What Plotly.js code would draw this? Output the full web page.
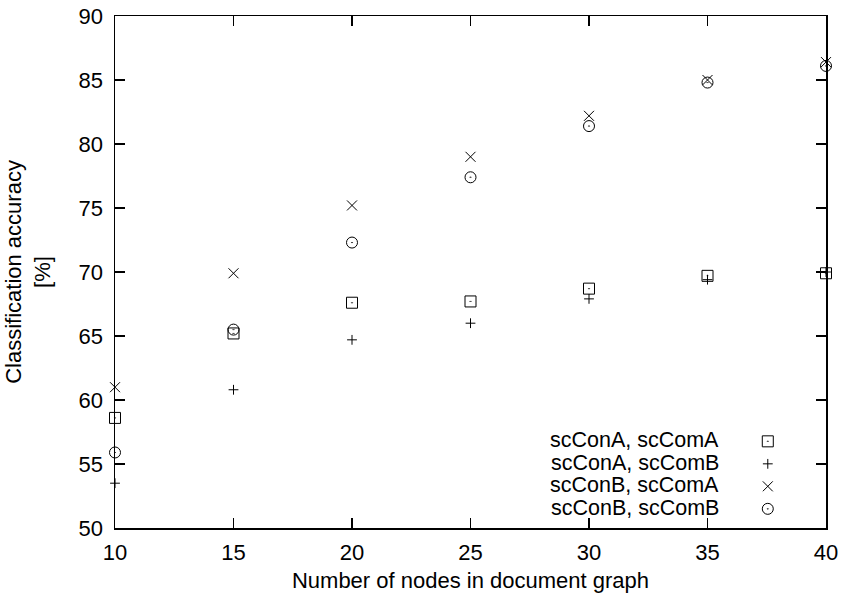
<!DOCTYPE html>
<html>
<head>
<meta charset="utf-8">
<script src="https://cdn.plot.ly/plotly-3.0.1.min.js"></script>
<style>html,body{margin:0;padding:0;background:#fff;}#chart{width:847px;height:600px;}</style>
</head>
<body>
<div id="chart"></div>
<script>
const nodes = [10, 15, 20, 25, 30, 35, 40];
const conA_comA = [58.6, 65.2, 67.6, 67.7, 68.7, 69.7, 69.9];
const conA_comB = [53.5, 60.8, 64.7, 66.0, 67.9, 69.4, 70.0];
const conB_comA = [61.0, 69.9, 75.2, 79.0, 82.2, 85.0, 86.4];
const conB_comB = [55.9, 65.5, 72.3, 77.4, 81.4, 84.8, 86.1];
const seriesNames = ["scConA, scComA", "scConA, scComB", "scConB, scComA", "scConB, scComB"];
const xTicks = [10, 15, 20, 25, 30, 35, 40];
const yTicks = [50, 55, 60, 65, 70, 75, 80, 85, 90];

const symbols = ["square-open-dot", "cross-thin-open", "x-thin-open", "circle-open-dot"];
const sizes = [11, 7, 10, 11];
const seriesData = [conA_comA, conA_comB, conB_comA, conB_comB];
const FONT = "Liberation Sans, Arial, Helvetica, sans-serif";
const FS = 22;

const traces = seriesData.map((ys, i) => ({
  x: nodes, y: ys, name: seriesNames[i], type: "scatter", mode: "markers",
  cliponaxis: false, showlegend: false,
  marker: {symbol: symbols[i], size: sizes[i], color: "#000", line: {color: "#000", width: 1}}
}));
// legend keys only (no data): text is drawn as annotations to the left, gnuplot style
const keyTraces = seriesNames.map((n, i) => ({
  x: [null], y: [null], name: "", type: "scatter", mode: "markers", showlegend: true,
  marker: {symbol: symbols[i], size: sizes[i], color: "#000", line: {color: "#000", width: 1}}
}));

const annotations = seriesNames.map((n, i) => ({
  xref: "paper", yref: "paper", x: 0.851, y: 0.172 - i*0.0437,
  text: n, showarrow: false, xanchor: "right", yanchor: "middle",
  height: 21, borderpad: 0,
  font: {family: FONT, size: 21.5, color: "#000"}
}));

const layout = {
  width: 847, height: 600,
  margin: {l: 115, r: 21, t: 16, b: 72},
  paper_bgcolor: "#fff", plot_bgcolor: "#fff",
  showlegend: true,
  legend: {x: 0.890, y: 0.201, xanchor: "left", yanchor: "top",
    font: {family: FONT, size: 15, color: "#000"},
    bgcolor: "rgba(0,0,0,0)", itemwidth: 30, tracegroupgap: 0},
  font: {family: FONT, size: FS, color: "#000"},
  xaxis: {
    range: [10, 40], tickvals: xTicks, ticktext: xTicks.map(String),
    ticks: "inside", ticklen: 10, tickwidth: 1.5, tickcolor: "#000",
    showline: true, linecolor: "#000", linewidth: 1.5, mirror: "ticks",
    showgrid: false, zeroline: false, ticklabelstandoff: 4,
    tickfont: {family: FONT, size: FS, color: "#000"},
    title: {text: "Number of nodes in document graph", font: {family: FONT, size: FS, color: "#000"}, standoff: 8}
  },
  yaxis: {
    range: [50, 90], tickvals: yTicks, ticktext: yTicks.map(String),
    ticks: "inside", ticklen: 10, tickwidth: 1.5, tickcolor: "#000",
    showline: true, linecolor: "#000", linewidth: 1.5, mirror: "ticks",
    showgrid: false, zeroline: false, ticklabelstandoff: 6,
    tickfont: {family: FONT, size: FS, color: "#000"},
    title: {text: "Classification accuracy<br>[%]", font: {family: FONT, size: FS, color: "#000"}, standoff: 22}
  },
  annotations: annotations
};

Plotly.newPlot("chart", traces.concat(keyTraces), layout, {displayModeBar: false, staticPlot: true});
</script>
</body>
</html>
